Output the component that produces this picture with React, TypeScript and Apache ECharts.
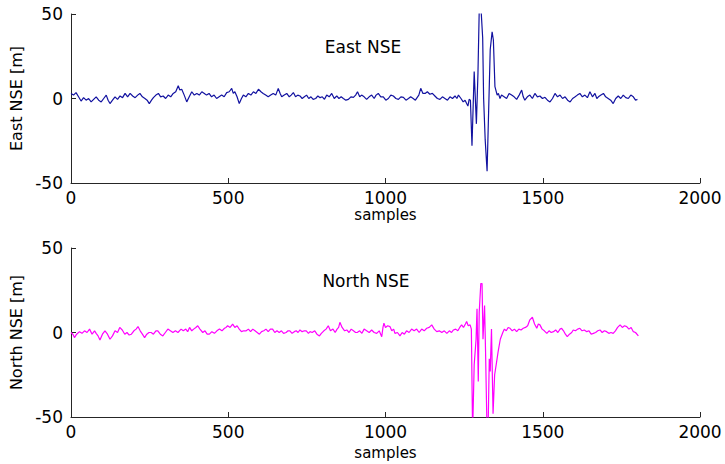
import React, { useEffect, useRef } from "react";
import * as echarts from "echarts";

const xTicks = [0, 500, 1000, 1500, 2000];
const yTicks = [-50, 0, 50];
const titles = ["East NSE", "North NSE"];
const yNames = ["East NSE [m]", "North NSE [m]"];
const xName = "samples";

const eastNse: [number, number][] = [
  [0, 3], [8, 2], [16, 3.5], [24, 1], [32, -1.5], [40, 0.5], [48, -1], [56, 0], [64, -2], [72, -0.5],
  [80, 1], [88, -1], [96, -2], [104, 0], [112, 2], [118, -1], [124, -3], [132, -1], [140, 1], [148, -0.5],
  [156, 1.5], [164, 0.5], [172, 3], [180, 1], [188, 3], [196, 1.5], [204, 0.5], [212, 2], [219, 3], [227, 1],
  [235, 0], [242, -1], [249, -3], [256, -1], [262, 0.5], [270, 2], [278, 3], [285, 1], [293, 1.5], [301, 0],
  [309, 2], [317, 1], [325, 3], [333, 4], [341, 7.5], [346, 5], [352, 5.5], [360, 2], [368, -2], [376, 1],
  [384, 4], [392, 2], [400, 3], [408, 2], [416, 4], [424, 3], [431, 2], [439, 3], [447, 1], [455, 2],
  [463, 0], [471, 1], [479, 2], [487, 1], [495, 3.5], [503, 4], [511, 6], [516, 3], [521, 4], [528, 1],
  [535, -3], [542, 0], [548, 2], [556, 1], [564, 3], [572, 2], [580, 4], [588, 3], [596, 5.5], [604, 4],
  [611, 3], [619, 2], [627, 1], [635, 2], [643, 3], [651, 2], [659, 6], [665, 3], [670, 1], [678, 2],
  [686, 3], [694, 1], [700, 2], [707, 3.5], [714, 1], [721, 2], [728, 1.5], [735, 0], [742, 1], [749, 2],
  [756, 0], [763, 1], [770, -0.5], [778, 0], [785, 1.5], [792, 0.5], [799, 1], [806, -0.5], [813, 2], [821, 1],
  [829, 3], [837, 0], [845, 1.5], [852, 0], [859, 1], [866, 0], [874, -1], [882, -0.5], [890, 1], [898, 0.7],
  [905, 2], [911, 4], [918, 1], [924, 2], [932, 1], [940, -0.5], [948, 1], [956, 2], [964, 0], [970, 2],
  [977, 3], [985, 1], [993, 1], [1001, -1], [1009, 0], [1017, 2], [1025, 1.5], [1033, 0], [1041, -0.5], [1049, 1],
  [1057, 0.7], [1065, -1], [1073, 0], [1080, 1], [1088, 0], [1095, -1], [1101, 0.7], [1106, 2], [1112, 6], [1119, 3],
  [1126, 3], [1133, 4], [1141, 2.5], [1149, 3], [1157, 1.5], [1165, 0], [1173, -0.5], [1181, 1], [1189, 0], [1197, -1],
  [1205, 1], [1213, 0], [1221, 1.5], [1227, 0], [1232, 2], [1240, 0], [1247, -2], [1253, -1], [1258, -3], [1262, -4.5],
  [1266, -0.5], [1270, -1], [1275, -28], [1282, 16], [1289, -15], [1294, 15], [1298, 52], [1304, 52], [1309, 36], [1312, 0],
  [1317, -24.5], [1323, -43], [1328, -7], [1333, 29], [1339, 39.5], [1343, 34.6], [1348, 7], [1355, 2], [1359, 3], [1364, 0],
  [1369, 2], [1377, 1], [1385, 0], [1393, 3], [1401, 2], [1409, 1], [1417, -0.5], [1425, 2], [1433, 5], [1438, 1],
  [1443, -1], [1451, 1], [1459, 2], [1467, 0], [1475, 3], [1483, 1], [1491, 1.5], [1499, 0], [1507, 0.7], [1515, -1],
  [1523, -2], [1531, 0], [1539, 3], [1547, 1], [1555, 2], [1563, 0], [1571, 1], [1579, -1], [1587, -2], [1595, 0],
  [1603, 1], [1610, 2], [1618, 3], [1626, 1], [1634, 2], [1642, 0.5], [1650, 4], [1658, 1], [1666, 3], [1672, 0],
  [1677, 1], [1685, 2], [1693, 3], [1700, 1], [1708, 0], [1716, -1], [1724, -3], [1732, 0], [1740, 1.5], [1748, 0],
  [1756, 2], [1764, 0.5], [1772, 0], [1780, 2], [1788, 1], [1795, -1], [1801, -0.5],
];

const northNse: [number, number][] = [
  [0, 0], [6, -1], [11, -3], [18, -1], [27, 0.5], [35, -0.5], [43, 1], [51, 0], [59, 2], [67, -1],
  [75, 1], [80, -0.5], [86, -2], [92, -4.5], [100, -1], [108, 1], [116, -1], [124, -4], [132, -2], [140, 1],
  [148, 0], [155, 3], [163, 1.5], [171, -1], [178, 0], [185, -1.5], [192, -1], [200, 1], [207, 2], [213, 3.5],
  [220, 1], [227, -1], [234, -3], [241, -1], [248, 0], [255, 0], [262, -1], [270, 1], [276, 1], [284, -1],
  [292, -2], [300, 0], [308, 2], [316, 1], [324, 0], [332, 1], [340, 0], [350, 2], [357, 1], [365, 2],
  [371, 0.5], [377, 3], [384, 1], [390, 2], [397, 3], [403, 4], [410, 2], [419, 0], [426, 1], [433, -1],
  [440, -1], [448, 0.5], [456, -0.5], [464, 1], [472, 2], [480, 1], [488, 2.5], [493, 3], [498, 4], [506, 3],
  [514, 5], [521, 3], [528, 4], [535, 2], [542, 0.5], [549, 1], [557, 1], [564, 2], [571, 0.5], [578, 2],
  [585, 1], [592, 0], [599, -1], [606, 0.5], [613, 1], [620, 2], [627, 0.5], [634, 2], [641, 2], [648, 0],
  [655, 1], [662, 0], [669, 1], [676, -0.5], [684, 0], [690, 1], [696, 1], [703, -0.5], [710, 0.5], [716, 1],
  [722, 0], [728, 1.5], [735, 0.5], [742, 1], [748, 1], [755, -0.5], [760, 0.5], [767, 0], [775, 1], [782, -1],
  [790, -2], [796, -0.5], [804, 1], [811, 2], [818, 4], [825, 1], [833, 2], [840, 0], [846, 2], [851, 3],
  [855, 6], [862, 3], [870, 1], [877, 1.5], [884, 0], [891, 2], [898, 1], [905, 0], [910, 0], [918, 1],
  [925, -0.5], [932, 2], [940, 1], [948, 0], [956, 1.5], [964, 0], [972, -0.5], [980, 1], [988, -2.5], [992, 3],
  [995, 5.5], [1000, 3], [1007, 4], [1014, 3.5], [1020, 1], [1026, 2], [1030, -0.5], [1038, 0], [1046, -2], [1053, 0],
  [1060, -1], [1067, 1], [1075, 0], [1083, 2], [1091, 1], [1099, 2], [1107, 0], [1115, 2], [1123, 1], [1131, 2.5],
  [1139, 3], [1147, 4.5], [1155, 2], [1163, 0.5], [1171, 1], [1179, 0], [1187, 1], [1195, -0.5], [1203, 1], [1210, 0],
  [1216, 1.5], [1223, 2], [1230, 1], [1236, 3], [1242, 4.5], [1248, 3], [1254, 5], [1258, 6.5], [1263, 4], [1269, 4.5],
  [1273, 2], [1277, -60], [1282, -19], [1288, -4], [1291, 14], [1295, -29], [1298, 12], [1303, 29], [1307, 29], [1310, -4],
  [1315, 16], [1318, -10], [1323, -60], [1326, -60], [1330, -15.5], [1333, -23], [1337, 2], [1342, -48], [1347, -25], [1352, -19],
  [1358, -11.5], [1365, -4], [1373, 0], [1378, 2], [1384, 1], [1390, 3], [1396, 2.5], [1403, 1], [1410, 2], [1417, 0.5],
  [1424, 2], [1431, 1.5], [1438, 2.5], [1445, 3], [1452, 4], [1459, 7.5], [1467, 9], [1474, 5], [1481, 2.5], [1486, 5],
  [1491, 4.5], [1498, 2], [1505, 1], [1513, -0.5], [1520, 1], [1527, 0], [1534, 0.5], [1541, 1.5], [1548, 0], [1555, 2],
  [1560, 2.5], [1566, 1], [1572, -1], [1578, -2.5], [1585, -1], [1592, 0], [1597, 1.5], [1604, 1], [1611, 2], [1618, 2.5],
  [1625, 1], [1632, 1.5], [1640, 0.5], [1647, 1], [1654, -1], [1661, -0.5], [1668, 0], [1675, 1], [1682, 1.5], [1689, 0],
  [1696, 1], [1703, 0.5], [1710, -0.5], [1717, 0], [1724, -0.5], [1731, 1], [1738, 3], [1746, 4.5], [1753, 3], [1760, 4],
  [1767, 3.5], [1774, 2], [1781, 3], [1788, 0.5], [1795, 0], [1804, -2],
];

const FONT = "DejaVu Sans";
const AXIS_COLOR = "#262626";

export default function App() {
  const ref = useRef<HTMLDivElement>(null);
  useEffect(() => {
    if (!ref.current) return;
    const chart = echarts.init(ref.current, undefined, { renderer: "svg" });
    const grids = [
      { left: 71, top: 14, width: 629, height: 169 },
      { left: 71, top: 248, width: 629, height: 169 },
    ];
    const xNameGaps = [32, 36];
    const makeX = (i: number) => ({
      type: "value" as const,
      gridIndex: i,
      min: xTicks[0],
      max: xTicks[xTicks.length - 1],
      interval: 500,
      name: xName,
      nameLocation: "middle" as const,
      nameGap: xNameGaps[i],
      nameTextStyle: { fontFamily: FONT, fontSize: 15, color: "#000", verticalAlign: "middle" },
      axisLine: { show: true, onZero: false, lineStyle: { color: AXIS_COLOR, width: 1 } },
      axisTick: { show: true, inside: true, length: 5, lineStyle: { color: AXIS_COLOR } },
      axisLabel: {
        fontFamily: FONT, fontSize: 17, color: "#000", margin: 6,
        formatter: (v: number) => String(v),
      },
      splitLine: { show: false },
    });
    const makeY = (i: number) => ({
      type: "value" as const,
      gridIndex: i,
      min: yTicks[0],
      max: yTicks[yTicks.length - 1],
      interval: 50,
      name: yNames[i],
      nameLocation: "middle" as const,
      nameGap: 46,
      nameRotate: 90,
      nameTextStyle: { fontFamily: FONT, fontSize: 16, color: "#000" },
      axisLine: { show: true, onZero: false, lineStyle: { color: AXIS_COLOR, width: 1 } },
      axisTick: { show: true, inside: true, length: 5, lineStyle: { color: AXIS_COLOR } },
      axisLabel: {
        fontFamily: FONT, fontSize: 17, color: "#000", margin: 8,
        formatter: (v: number) => String(v),
      },
      splitLine: { show: false },
    });
    chart.setOption({
      animation: false,
      backgroundColor: "#fff",
      grid: grids,
      xAxis: [makeX(0), makeX(1)],
      yAxis: [makeY(0), makeY(1)],
      title: [
        { text: titles[0], left: 358, top: 42, textAlign: "center", textVerticalAlign: "middle",
          textStyle: { fontFamily: FONT, fontSize: 17, fontWeight: "normal", color: "#000" } },
        { text: titles[1], left: 361, top: 276, textAlign: "center", textVerticalAlign: "middle",
          textStyle: { fontFamily: FONT, fontSize: 17, fontWeight: "normal", color: "#000" } },
      ],
      series: [
        {
          type: "line", xAxisIndex: 0, yAxisIndex: 0, data: eastNse, showSymbol: false, smooth: false,
          clip: true, lineStyle: { color: "#1212a0", width: 1.2 }, itemStyle: { color: "#1212a0" },
        },
        {
          type: "line", xAxisIndex: 1, yAxisIndex: 1, data: northNse, showSymbol: false, smooth: false,
          clip: true, lineStyle: { color: "#ff00ff", width: 1.2 }, itemStyle: { color: "#ff00ff" },
        },
      ],
    });
    return () => chart.dispose();
  }, []);
  return (
    <div
      ref={ref}
      style={{ position: "fixed", left: 0, top: 0, width: 725, height: 464, background: "#fff" }}
    />
  );
}
